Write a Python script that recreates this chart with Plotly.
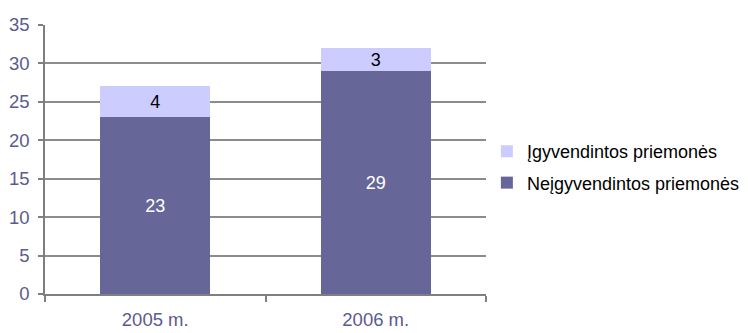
import plotly.graph_objects as go

categories = ["2005 m.", "2006 m."]
neigyvendintos = [23, 29]
igyvendintos = [4, 3]
y_ticks = [0, 5, 10, 15, 20, 25, 30, 35]

dark = "#666699"
light = "#CCCCFF"
tick_color = "#5B5B8F"
FONT = "Liberation Sans, Arial"

fig = go.Figure()
fig.add_trace(go.Bar(
    x=categories, y=neigyvendintos, name="Neįgyvendintos priemonės",
    legendgroup="b", legendrank=2,
    marker=dict(color=dark, line=dict(width=0)),
    text=neigyvendintos, textposition="inside", insidetextanchor="middle",
    textangle=0, constraintext="none",
    textfont=dict(color="white", size=18, family=FONT),
))
fig.add_trace(go.Bar(
    x=categories, y=igyvendintos, name="Įgyvendintos priemonės",
    legendgroup="a", legendrank=1,
    marker=dict(color=light, line=dict(width=0)),
    text=igyvendintos, textposition="inside", insidetextanchor="middle",
    textangle=0, constraintext="none",
    textfont=dict(color="black", size=18, family=FONT),
))

fig.update_layout(
    barmode="stack", bargap=0.5,
    width=748, height=333,
    margin=dict(l=45, r=262, t=25, b=39, autoexpand=False),
    plot_bgcolor="white", paper_bgcolor="white",
    font=dict(family=FONT, size=18, color="black"),
    uniformtext=dict(mode="show", minsize=10),
    legend=dict(
        traceorder="grouped", x=1.002, y=0.472,
        xanchor="left", yanchor="middle",
        font=dict(size=18, color="black", family=FONT), itemwidth=30, tracegroupgap=5,
    ),
    showlegend=True,
)
fig.update_yaxes(
    range=[0, 35], tickvals=y_ticks, showgrid=True, gridcolor="#8C8C8C", gridwidth=1.5,
    showline=True, linecolor="#7F7F7F", linewidth=1.5,
    ticks="outside", ticklen=5, tickcolor="#7F7F7F", tickwidth=1.5,
    tickfont=dict(size=18.5, color=tick_color, family=FONT), zeroline=False,
    ticklabelstandoff=5,
)
fig.update_xaxes(
    showline=True, linecolor="#7F7F7F", linewidth=1.5,
    ticks="outside", tickson="boundaries", ticklen=6, tickcolor="#7F7F7F", tickwidth=1.5,
    tickfont=dict(size=18.5, color=tick_color, family=FONT), showgrid=False,
    ticklabelstandoff=8,
)

fig.write_html("out.html")
